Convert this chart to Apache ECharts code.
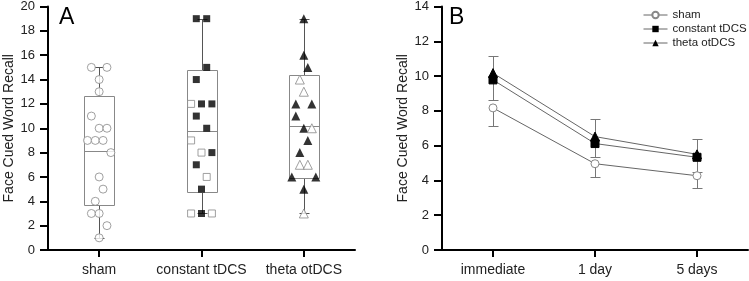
<!DOCTYPE html>
<html>
<head>
<meta charset="utf-8">
<script src="https://cdn.jsdelivr.net/npm/echarts@6/dist/echarts.min.js"></script>
<style>
  html, body { margin: 0; padding: 0; background: #fff; }
  #chart { width: 749px; height: 281px; }
</style>
</head>
<body>
<div id="chart"></div>
<script>
// ---- panel A: individual scores per group (slot = horizontal jitter slot, filled = solid marker)
const groupsA = ['sham', 'constant tDCS', 'theta otDCS']
const shamScores = [15, 15, 14, 13, 11, 10, 10, 9, 9, 9, 8, 6, 5, 4, 3, 3, 2, 1]
const shamSlots = [-2, 2, 0, 0, -2, 0, 2, -3, -1, 1, 3, 0, 1, -1, -2, 0, 2, 0]
const constScores = [19, 19, 15, 14, 12, 12, 12, 11, 10, 9, 8, 8, 7, 6, 5, 3, 3, 3]
const constSlots = [-1, 1, 1, -1, -2, 0, 2, -1, 1, -2, 0, 2, -1, 1, 0, -2, 0, 2]
const constFilled = [1, 1, 1, 1, 0, 1, 1, 1, 1, 0, 0, 1, 1, 0, 1, 0, 1, 0]
const thetaScores = [19, 16, 15, 14, 13, 12, 12, 11, 10, 10, 9, 8, 7, 7, 6, 6, 5, 3]
const thetaSlots = [0, 0, 1, -1, 0, -2, 2, -2, 0, 2, 1, -1, -1, 1, -3, 3, 0, 0]
const thetaFilled = [1, 1, 1, 0, 0, 1, 1, 1, 1, 0, 1, 1, 0, 0, 1, 1, 1, 0]

// ---- panel B: means and error per session
const timesB = ['immediate', '1 day', '5 days']
const shamMean = [8.17, 4.96, 4.27]
const shamErr = [1.05, 0.78, 0.70]
const constMean = [9.78, 6.12, 5.33]
const constErr = [1.18, 0.80, 0.85]
const thetaMean = [10.17, 6.52, 5.5]
const thetaErr = [0.96, 1.0, 0.9]

const FONT = 'Liberation Sans, Arial, sans-serif'
const TXT = '#222'
const GRAY = '#888'

// box = mean +/- SD, whiskers = min..max
function boxStats(arr) {
  const n = arr.length
  const mean = arr.reduce((a, b) => a + b, 0) / n
  const sd = Math.sqrt(arr.reduce((a, b) => a + (b - mean) * (b - mean), 0) / (n - 1))
  return [Math.min(...arr), mean - sd, mean, mean + sd, Math.max(...arr)]
}
const boxData = [shamScores, constScores, thetaScores].map((arr, i) => [i].concat(boxStats(arr)))

function renderBox(params, api) {
  const i = api.value(0)
  const x = Math.round(api.coord([i, 0])[0]) + 0.5
  const y = (k) => Math.round(api.coord([i, api.value(k)])[1]) + 0.5
  const yMin = y(1), yLo = y(2), yMean = y(3), yHi = y(4), yMax = y(5)
  const half = 15, cap = 5
  const wl = { stroke: '#555', lineWidth: 1 }
  const bl = { stroke: GRAY, lineWidth: 1 }
  return {
    type: 'group',
    children: [
      { type: 'line', shape: { x1: x, y1: yMax, x2: x, y2: yHi }, style: wl },
      { type: 'line', shape: { x1: x, y1: yLo, x2: x, y2: yMin }, style: wl },
      { type: 'line', shape: { x1: x - cap, y1: yMax, x2: x + cap, y2: yMax }, style: wl },
      { type: 'line', shape: { x1: x - cap, y1: yMin, x2: x + cap, y2: yMin }, style: wl },
      { type: 'rect', shape: { x: x - half, y: yHi, width: half * 2, height: yLo - yHi }, style: { fill: '#fff', stroke: GRAY, lineWidth: 1 } },
      { type: 'line', shape: { x1: x - half, y1: yMean, x2: x + half, y2: yMean }, style: bl }
    ]
  }
}

function points(catIdx, scores, slots, filled, step) {
  return scores.map((v, k) => ({
    value: [catIdx, v],
    symbolOffset: [slots[k] * step, 0],
    itemStyle: filled && filled[k]
      ? { color: '#000', borderColor: '#000', borderWidth: 0 }
      : { color: '#fff', borderColor: GRAY, borderWidth: 1 }
  }))
}

// error bars for panel B (theta drawn up, the other two down)
const errDir = [-1, -1, 1]
const errData = []
;[[shamMean, shamErr], [constMean, constErr], [thetaMean, thetaErr]].forEach(([m, e], g) => {
  m.forEach((v, i) => errData.push([i, v, v + errDir[g] * e[i]]))
})
function renderErr(params, api) {
  const i = api.value(0)
  const x = Math.round(api.coord([i, 0])[0]) + 0.5
  const y1 = api.coord([i, api.value(1)])[1]
  const y2 = Math.round(api.coord([i, api.value(2)])[1]) + 0.5
  const st = { stroke: '#777', lineWidth: 1 }
  return {
    type: 'group',
    children: [
      { type: 'line', shape: { x1: x, y1: y1, x2: x, y2: y2 }, style: st },
      { type: 'line', shape: { x1: x - 5, y1: y2, x2: x + 5, y2: y2 }, style: st }
    ]
  }
}

const axisLine = { show: true, lineStyle: { color: '#000', width: 2 } }
const axisTick = { show: true, length: 7, lineStyle: { color: '#000', width: 2 } }

function catAxis(gridIndex, data) {
  return {
    type: 'category', gridIndex, data, boundaryGap: true,
    axisLine, axisTick: Object.assign({ alignWithLabel: true, interval: 0 }, axisTick),
    axisLabel: { interval: 0, hideOverlap: false, fontSize: 14, color: TXT, fontFamily: FONT, margin: 13 },
    splitLine: { show: false }
  }
}
function valAxis(gridIndex, max) {
  return {
    type: 'value', gridIndex, min: 0, max, interval: 2,
    name: 'Face Cued Word Recall', nameLocation: 'middle', nameGap: 31,
    nameTextStyle: { fontSize: 14, color: TXT, fontFamily: FONT },
    axisLine, axisTick: Object.assign({}, axisTick, { length: 8 }),
    axisLabel: { fontSize: 13, color: TXT, fontFamily: FONT, margin: 13 },
    splitLine: { show: false }
  }
}

const chart = echarts.init(document.getElementById('chart'))
const option = {
  animation: false,
  backgroundColor: '#fff',
  textStyle: { fontFamily: FONT },
  grid: [
    { left: 48, top: 6, width: 307, height: 244 },
    { left: 442, top: 6, width: 306, height: 244 }
  ],
  xAxis: [catAxis(0, groupsA), catAxis(1, timesB)],
  yAxis: [valAxis(0, 20), valAxis(1, 14)],
  legend: {
    data: ['sham', 'constant tDCS', 'theta otDCS'],
    orient: 'vertical', left: 643, top: 9, padding: 0,
    itemWidth: 24, itemHeight: 8, itemGap: 2,
    lineStyle: { width: 1, color: '#666' },
    textStyle: { fontSize: 11.5, color: TXT, fontFamily: FONT }
  },
  graphic: [
    { type: 'text', left: 59, top: 6, style: { text: 'A', fontSize: 23, fill: '#000', fontFamily: FONT } },
    { type: 'text', left: 449, top: 6, style: { text: 'B', fontSize: 23, fill: '#000', fontFamily: FONT } }
  ],
  series: [
    { type: 'custom', name: 'boxes', xAxisIndex: 0, yAxisIndex: 0, data: boxData, renderItem: renderBox, z: 1, silent: true },
    { type: 'scatter', name: 'ptsSham', xAxisIndex: 0, yAxisIndex: 0, symbol: 'circle', symbolSize: 8, z: 3,
      data: points(0, shamScores, shamSlots, null, 3.9) },
    { type: 'scatter', name: 'ptsConst', xAxisIndex: 0, yAxisIndex: 0, symbol: 'rect', symbolSize: 7, z: 3,
      data: points(1, constScores, constSlots, constFilled, 5.2) },
    { type: 'scatter', name: 'ptsTheta', xAxisIndex: 0, yAxisIndex: 0, symbol: 'triangle', symbolSize: 9, z: 3,
      data: points(2, thetaScores, thetaSlots, thetaFilled, 4) },
    { type: 'custom', name: 'err', xAxisIndex: 1, yAxisIndex: 1, data: errData, renderItem: renderErr, z: 1, silent: true },
    { type: 'line', name: 'sham', xAxisIndex: 1, yAxisIndex: 1, data: shamMean, symbol: 'circle', symbolSize: 8, showAllSymbol: true, z: 3,
      lineStyle: { color: '#666', width: 1 }, itemStyle: { color: '#fff', borderColor: GRAY, borderWidth: 1 } },
    { type: 'line', name: 'constant tDCS', xAxisIndex: 1, yAxisIndex: 1, data: constMean, symbol: 'rect', symbolSize: 8, z: 3,
      lineStyle: { color: '#666', width: 1 }, itemStyle: { color: '#000', borderColor: '#000' } },
    { type: 'line', name: 'theta otDCS', xAxisIndex: 1, yAxisIndex: 1, data: thetaMean, symbol: 'triangle', symbolSize: 9, z: 3,
      lineStyle: { color: '#666', width: 1 }, itemStyle: { color: '#000', borderColor: '#000' } }
  ]
}
chart.setOption(option)
</script>
</body>
</html>
